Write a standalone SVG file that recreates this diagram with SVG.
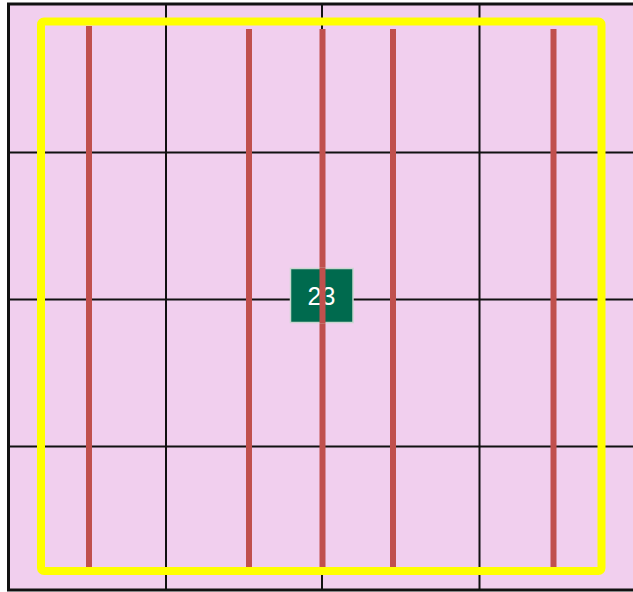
<svg xmlns="http://www.w3.org/2000/svg" width="633" height="592" viewBox="0 0 633 592">
<style>
.grid{stroke:#111;stroke-width:2;fill:none}
.rail{stroke:#c0504d;stroke-width:6;fill:none}
.lbl{font-family:"Liberation Sans",Arial,sans-serif;font-size:25px;fill:#fff;text-anchor:middle}
</style>
<rect x="0" y="0" width="633" height="592" fill="#fff"/>
<g id="background">
<rect x="8.5" y="4" width="640" height="586" fill="#f1cfee" stroke="#111" stroke-width="3"/>
</g>
<g id="grid">
<line class="grid" x1="166" y1="4" x2="166" y2="590"/>
<line class="grid" x1="322" y1="4" x2="322" y2="590"/>
<line class="grid" x1="479.5" y1="4" x2="479.5" y2="590"/>
<line class="grid" x1="9" y1="152.5" x2="633" y2="152.5"/>
<line class="grid" x1="9" y1="299.5" x2="633" y2="299.5"/>
<line class="grid" x1="9" y1="446.5" x2="633" y2="446.5"/>
</g>
<g id="boundary">
<rect x="41" y="21.5" width="560.5" height="549.5" rx="3" fill="none" stroke="#ffff00" stroke-width="8"/>
</g>
<g id="connectors">
<line class="rail" x1="89" y1="26" x2="89" y2="567"/>
<line class="rail" x1="249" y1="29" x2="249" y2="567"/>
<line class="rail" x1="322.5" y1="29" x2="322.5" y2="567"/>
<line class="rail" x1="393" y1="29" x2="393" y2="567"/>
<line class="rail" x1="553.5" y1="29" x2="553.5" y2="567"/>
</g>
<g id="node-23">
<rect x="290.5" y="268.5" width="62.5" height="54" fill="#006a4e" stroke="#c9d6cf" stroke-width="1.5"/>
<text class="lbl" x="321.5" y="305">23</text>
</g>
<line x1="322.5" y1="268" x2="322.5" y2="323" stroke="#c0504d" stroke-width="6"/>
</svg>
